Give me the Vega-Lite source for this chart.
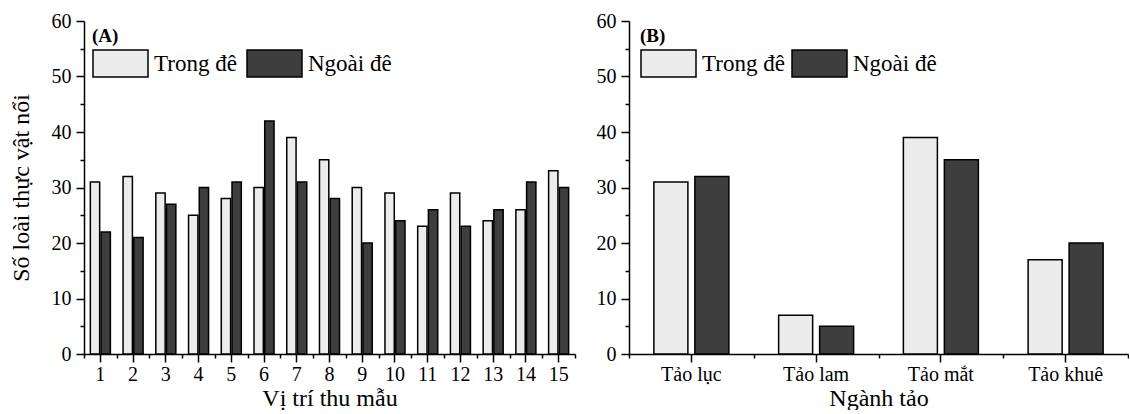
{
  "$schema": "https://vega.github.io/schema/vega-lite/v6.json",
  "padding": {"left": 9, "top": 11, "right": 0, "bottom": 0},
  "spacing": 20,
  "background": "white",
  "datasets": {
    "a": [
      {"pos": 1, "group": "Trong đê", "value": 31}, {"pos": 1, "group": "Ngoài đê", "value": 22},
      {"pos": 2, "group": "Trong đê", "value": 32}, {"pos": 2, "group": "Ngoài đê", "value": 21},
      {"pos": 3, "group": "Trong đê", "value": 29}, {"pos": 3, "group": "Ngoài đê", "value": 27},
      {"pos": 4, "group": "Trong đê", "value": 25}, {"pos": 4, "group": "Ngoài đê", "value": 30},
      {"pos": 5, "group": "Trong đê", "value": 28}, {"pos": 5, "group": "Ngoài đê", "value": 31},
      {"pos": 6, "group": "Trong đê", "value": 30}, {"pos": 6, "group": "Ngoài đê", "value": 42},
      {"pos": 7, "group": "Trong đê", "value": 39}, {"pos": 7, "group": "Ngoài đê", "value": 31},
      {"pos": 8, "group": "Trong đê", "value": 35}, {"pos": 8, "group": "Ngoài đê", "value": 28},
      {"pos": 9, "group": "Trong đê", "value": 30}, {"pos": 9, "group": "Ngoài đê", "value": 20},
      {"pos": 10, "group": "Trong đê", "value": 29}, {"pos": 10, "group": "Ngoài đê", "value": 24},
      {"pos": 11, "group": "Trong đê", "value": 23}, {"pos": 11, "group": "Ngoài đê", "value": 26},
      {"pos": 12, "group": "Trong đê", "value": 29}, {"pos": 12, "group": "Ngoài đê", "value": 23},
      {"pos": 13, "group": "Trong đê", "value": 24}, {"pos": 13, "group": "Ngoài đê", "value": 26},
      {"pos": 14, "group": "Trong đê", "value": 26}, {"pos": 14, "group": "Ngoài đê", "value": 31},
      {"pos": 15, "group": "Trong đê", "value": 33}, {"pos": 15, "group": "Ngoài đê", "value": 30}
    ],
    "b": [
      {"nganh": "Tảo lục", "group": "Trong đê", "value": 31}, {"nganh": "Tảo lục", "group": "Ngoài đê", "value": 32},
      {"nganh": "Tảo lam", "group": "Trong đê", "value": 7}, {"nganh": "Tảo lam", "group": "Ngoài đê", "value": 5},
      {"nganh": "Tảo mắt", "group": "Trong đê", "value": 39}, {"nganh": "Tảo mắt", "group": "Ngoài đê", "value": 35},
      {"nganh": "Tảo khuê", "group": "Trong đê", "value": 17}, {"nganh": "Tảo khuê", "group": "Ngoài đê", "value": 20}
    ]
  },
  "config": {
    "font": "Liberation Serif",
    "view": {"stroke": null},
    "axis": {
      "labelFont": "Liberation Serif",
      "labelFontSize": 20,
      "labelColor": "black",
      "titleFont": "Liberation Serif",
      "titleFontSize": 24,
      "titleFontWeight": "normal",
      "titleColor": "black",
      "domainColor": "black",
      "domainWidth": 1.5,
      "tickColor": "black",
      "tickWidth": 1.5,
      "grid": false
    },
    "legend": {
      "orient": "none",
      "direction": "horizontal",
      "padding": 0,
      "titleFont": "Liberation Serif",
      "titleFontSize": 19,
      "titleFontWeight": "bold",
      "titleColor": "black",
      "titlePadding": -11,
      "labelFont": "Liberation Serif",
      "labelFontSize": 23,
      "labelColor": "black",
      "labelOffset": 5,
      "symbolType": "M-1,-0.49H1V0.49H-1Z",
      "symbolSize": 3025,
      "symbolStrokeColor": "black",
      "symbolStrokeWidth": 1.5,
      "symbolOpacity": 1
    }
  },
  "resolve": {
    "scale": {"x": "independent", "y": "independent", "xOffset": "independent", "color": "independent"},
    "legend": {"color": "independent"}
  },
  "hconcat": [
    {
      "width": 491,
      "height": 333,
      "data": {"name": "a"},
      "encoding": {
        "y": {
          "field": "value", "type": "quantitative",
          "scale": {"domain": [0, 60], "nice": false},
          "axis": {
            "title": "Số loài thực vật nổi",
            "values": [0, 5, 10, 15, 20, 25, 30, 35, 40, 45, 50, 55, 60],
            "labelExpr": "datum.value % 10 === 0 ? datum.label : ''",
            "tickSize": {"condition": {"test": "datum.value % 10 === 0", "value": 8}, "value": 4},
            "labelPadding": 5,
            "titlePadding": 18
          }
        },
        "xOffset": {
          "field": "group", "type": "nominal",
          "scale": {"domain": ["Trong đê", "Ngoài đê"], "paddingInner": 0.13, "paddingOuter": 0.593}
        },
        "color": {
          "field": "group", "type": "nominal",
          "scale": {"domain": ["Trong đê", "Ngoài đê"], "range": ["#ececec", "#3e3e3e"]},
          "legend": {"title": "(A)", "legendX": 8, "legendY": 6, "columnPadding": 7}
        }
      },
      "resolve": {"axis": {"x": "independent"}},
      "layer": [
        {
          "transform": [{"filter": "datum.group === 'Trong đê'"}],
          "mark": {"type": "bar", "stroke": "black", "strokeWidth": 1.5, "opacity": 1},
          "encoding": {
            "x": {
              "field": "pos", "type": "ordinal",
              "scale": {"paddingInner": 0, "paddingOuter": 0},
              "axis": {"orient": "bottom", "title": "Vị trí thu mẫu", "labelAngle": 0, "tickSize": 8, "labelPadding": 2, "titlePadding": 2}
            }
          }
        },
        {
          "transform": [{"filter": "datum.group === 'Ngoài đê'"}],
          "mark": {"type": "bar", "stroke": "black", "strokeWidth": 1.5, "opacity": 1},
          "encoding": {
            "x": {
              "field": "pos", "type": "ordinal",
              "axis": {"orient": "bottom", "title": null, "labels": false, "domain": false, "tickBand": "extent", "tickSize": 4}
            }
          }
        }
      ]
    },
    {
      "width": 499,
      "height": 333,
      "data": {"name": "b"},
      "encoding": {
        "y": {
          "field": "value", "type": "quantitative",
          "scale": {"domain": [0, 60], "nice": false},
          "axis": {
            "title": null,
            "values": [0, 5, 10, 15, 20, 25, 30, 35, 40, 45, 50, 55, 60],
            "labelExpr": "datum.value % 10 === 0 ? datum.label : ''",
            "tickSize": {"condition": {"test": "datum.value % 10 === 0", "value": 8}, "value": 4},
            "labelPadding": 5
          }
        },
        "xOffset": {
          "field": "group", "type": "nominal",
          "scale": {"domain": ["Trong đê", "Ngoài đê"], "paddingInner": 0.17, "paddingOuter": 0.607}
        },
        "color": {
          "field": "group", "type": "nominal",
          "scale": {"domain": ["Trong đê", "Ngoài đê"], "range": ["#ececec", "#3e3e3e"]},
          "legend": {"title": "(B)", "legendX": 11, "legendY": 6, "columnPadding": 4}
        }
      },
      "resolve": {"axis": {"x": "independent"}},
      "layer": [
        {
          "transform": [{"filter": "datum.group === 'Trong đê'"}],
          "mark": {"type": "bar", "stroke": "black", "strokeWidth": 1.5, "opacity": 1},
          "encoding": {
            "x": {
              "field": "nganh", "type": "nominal",
              "sort": ["Tảo lục", "Tảo lam", "Tảo mắt", "Tảo khuê"],
              "scale": {"paddingInner": 0, "paddingOuter": 0},
              "axis": {"orient": "bottom", "title": "Ngành tảo", "labelAngle": 0, "tickSize": 8, "labelPadding": 2, "titlePadding": 2}
            }
          }
        },
        {
          "transform": [{"filter": "datum.group === 'Ngoài đê'"}],
          "mark": {"type": "bar", "stroke": "black", "strokeWidth": 1.5, "opacity": 1},
          "encoding": {
            "x": {
              "field": "nganh", "type": "nominal",
              "sort": ["Tảo lục", "Tảo lam", "Tảo mắt", "Tảo khuê"],
              "axis": {"orient": "bottom", "title": null, "labels": false, "domain": false, "tickBand": "extent", "tickSize": 4}
            }
          }
        }
      ]
    }
  ]
}
